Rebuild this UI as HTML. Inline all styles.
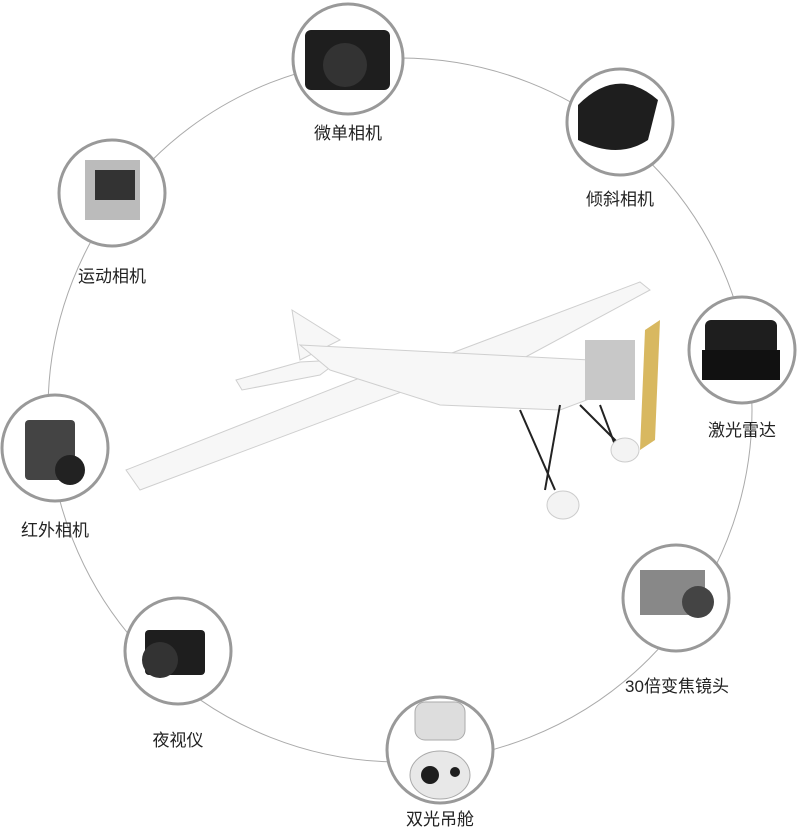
<!DOCTYPE html>
<html><head><meta charset="utf-8"><style>
body{margin:0;background:#fff;}
svg text{font-family:"Liberation Sans","Noto Sans CJK SC",sans-serif;font-size:17px;fill:#222;text-anchor:middle;}
</style></head><body>
<svg width="800" height="829" viewBox="0 0 800 829" xmlns="http://www.w3.org/2000/svg">
<circle cx="400" cy="410" r="352" fill="none" stroke="#aaa" stroke-width="1"/>
<!-- plane -->
<g fill="#f7f7f7" stroke="#cfcfcf" stroke-width="1">
<polygon points="292,310 340,340 300,360"/>
<polygon points="236,380 300,362 340,360 320,375 242,390"/>
<polygon points="126,470 380,370 420,372 420,385 140,490"/>
<polygon points="420,365 640,282 650,290 520,360 440,385"/>
<polygon points="300,345 590,360 600,395 560,410 440,405 330,370"/>
</g>
<rect x="585" y="340" width="50" height="60" fill="#c8c8c8"/>
<polygon points="645,330 660,320 655,440 640,450" fill="#d8b860"/>
<g stroke="#222" stroke-width="2" fill="none">
<line x1="520" y1="410" x2="555" y2="490"/><line x1="560" y1="405" x2="545" y2="490"/>
<line x1="580" y1="405" x2="620" y2="445"/><line x1="600" y1="405" x2="615" y2="445"/>
</g>
<ellipse cx="563" cy="505" rx="16" ry="14" fill="#f3f3f3" stroke="#ccc"/>
<ellipse cx="625" cy="450" rx="14" ry="12" fill="#f3f3f3" stroke="#ccc"/>
<!-- nodes -->
<g fill="#fff" stroke="#999" stroke-width="3">
<circle cx="348" cy="59" r="55"/>
<circle cx="620" cy="122" r="53"/>
<circle cx="112" cy="193" r="53"/>
<circle cx="742" cy="350" r="53"/>
<circle cx="55" cy="448" r="53"/>
<circle cx="676" cy="598" r="53"/>
<circle cx="178" cy="651" r="53"/>
<circle cx="440" cy="750" r="53"/>
</g>
<g fill="#1e1e1e">
<rect x="305" y="30" width="85" height="60" rx="6"/>
<circle cx="345" cy="65" r="22" fill="#333"/>
<path d="M578,105 q40,-40 80,-5 l-10,40 q-30,20 -70,0z"/>
<rect x="85" y="160" width="55" height="60" fill="#bbb"/>
<rect x="95" y="170" width="40" height="30" fill="#333"/>
<rect x="705" y="320" width="72" height="35" rx="6"/>
<rect x="702" y="350" width="78" height="30" fill="#111"/>
<rect x="25" y="420" width="50" height="60" rx="4" fill="#444"/>
<circle cx="70" cy="470" r="15" fill="#222"/>
<rect x="640" y="570" width="65" height="45" fill="#888"/>
<circle cx="698" cy="602" r="16" fill="#444"/>
<rect x="145" y="630" width="60" height="45" rx="4"/>
<circle cx="160" cy="660" r="18" fill="#333"/>
<rect x="415" y="702" width="50" height="38" rx="10" fill="#ddd" stroke="#aaa"/>
<ellipse cx="440" cy="775" rx="30" ry="24" fill="#e8e8e8" stroke="#aaa"/>
<circle cx="430" cy="775" r="9"/>
<circle cx="455" cy="772" r="5"/>
</g>
<text x="348" y="139">微单相机</text>
<text x="620" y="205">倾斜相机</text>
<text x="112" y="282">运动相机</text>
<text x="742" y="436">激光雷达</text>
<text x="55" y="536">红外相机</text>
<text x="677" y="692">30倍变焦镜头</text>
<text x="178" y="746">夜视仪</text>
<text x="440" y="825">双光吊舱</text>
</svg>
</body></html>
